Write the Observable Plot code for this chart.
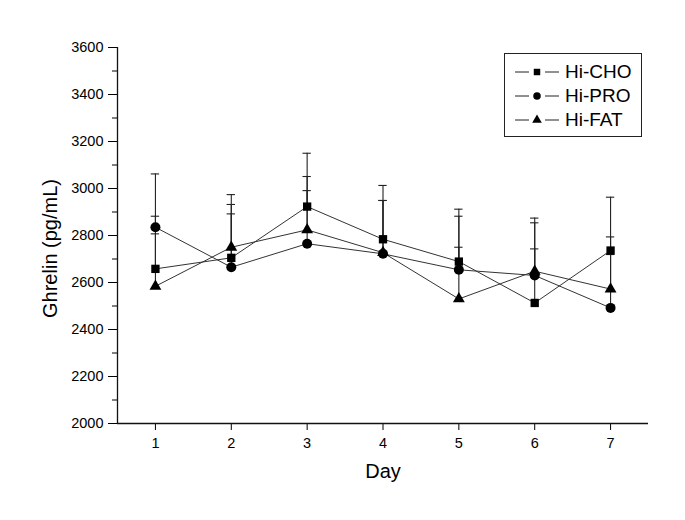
<!DOCTYPE html>
<html>
<head>
<meta charset="utf-8">
<script src="https://cdn.jsdelivr.net/npm/d3@7"></script>
<script src="https://cdn.jsdelivr.net/npm/@observablehq/plot@0.6"></script>
<style>
  body { margin: 0; background: white; font-family: "Liberation Sans", Arial, sans-serif; }
  #wrap { position: relative; width: 685px; height: 520px; }
  #wrap g[aria-label$="tick label"] text { font-size: 14.5px; }
  #legend { position: absolute; left: 504px; top: 53px; width: 138px; height: 84px; box-sizing: border-box;
            border: 1px solid #222; background: white; }
  .row { position: absolute; height: 22px; display: flex; align-items: center; white-space: nowrap; }
  .row svg { display: block; flex: none; }
  .row span { font-size: 19px; color: #000; margin-left: 6px; line-height: 22px; white-space: nowrap; }
</style>
</head>
<body>
<div id="wrap"></div>
<script>
const days = [1, 2, 3, 4, 5, 6, 7];
const seriesNames = ["Hi-CHO", "Hi-PRO", "Hi-FAT"];
const choValues = [2658, 2705, 2923, 2784, 2689, 2513, 2736];
const proValues = [2835, 2665, 2765, 2722, 2654, 2630, 2492];
const fatValues = [2584, 2750, 2824, 2727, 2530, 2648, 2572];
const choErr = [224, 227, 227, 229, 223, 230, 227];
const proErr = [227, 227, 226, 227, 228, 224, 227];
const fatErr = [223, 224, 227, 222, 220, 226, 222];
const yMajorTicks = [2000, 2200, 2400, 2600, 2800, 3000, 3200, 3400, 3600];
const yMinorTicks = [2100, 2300, 2500, 2700, 2900, 3100, 3300, 3500];
const xLabel = "Day";
const yLabel = "Ghrelin (pg/mL)";

const valuesBySeries = [choValues, proValues, fatValues];
const errBySeries = [choErr, proErr, fatErr];
const symbols = ["square", "circle", "triangle"];
const sizes = [4.7, 5, 4.4];

const data = seriesNames.flatMap((s, i) =>
  days.map((d, j) => ({series: s, day: d, value: valuesBySeries[i][j], err: errBySeries[i][j]}))
);

const font = "'Liberation Sans', Arial, sans-serif";

const chart = Plot.plot({
  width: 685,
  height: 520,
  marginLeft: 117,
  marginRight: 37,
  marginTop: 47,
  marginBottom: 97,
  x: {domain: [0.5, 7.5]},
  y: {domain: [2000, 3600]},
  style: {fontFamily: font, fontSize: "14px", background: "white", color: "black", overflow: "visible"},
  marks: [
    Plot.axisY(yMajorTicks, {tickSize: 9, tickPadding: 5, fontSize: 14.5, label: null, tickFormat: d => String(d)}),
    Plot.axisY(yMinorTicks, {tickSize: 5, text: null, label: null}),
    Plot.axisX(days, {tickSize: 7, tickPadding: 7, fontSize: 14.5, label: null}),
    Plot.ruleX([0.5], {stroke: "#111", strokeWidth: 1.3}),
    Plot.ruleY([2000], {stroke: "#111", strokeWidth: 1.3}),
    Plot.line(data, {x: "day", y: "value", z: "series", stroke: "#333", strokeWidth: 1}),
    Plot.ruleX(data, {x: "day", y1: "value", y2: d => d.value + d.err, stroke: "#222", strokeWidth: 1.1}),
    Plot.ruleY(data, {y: d => d.value + d.err, x1: d => d.day - 0.055, x2: d => d.day + 0.055, stroke: "#222", strokeWidth: 1.1}),
    ...seriesNames.map((s, i) =>
      Plot.dot(data, {filter: d => d.series === s, x: "day", y: "value", symbol: symbols[i], r: sizes[i], fill: "black", stroke: "none"})
    ),
    Plot.text([yLabel], {frameAnchor: "left", textAnchor: "middle", lineAnchor: "middle", rotate: -90, dx: -67, dy: 13, fontSize: 20}),
    Plot.text([xLabel], {frameAnchor: "bottom", textAnchor: "middle", lineAnchor: "middle", dy: 48, fontSize: 20})
  ]
});

const wrap = document.getElementById("wrap");
wrap.appendChild(chart);

// Legend
const legend = document.createElement("div");
legend.id = "legend";
seriesNames.forEach((s, i) => {
  const row = document.createElement("div");
  row.className = "row";
  row.style.top = (7 + i * 24) + "px";
  row.style.left = "10px";
  const svg = d3.create("svg").attr("width", 44).attr("height", 22);
  svg.append("line").attr("x1", 0).attr("x2", 14).attr("y1", 11).attr("y2", 11).attr("stroke", "#222");
  svg.append("line").attr("x1", 30).attr("x2", 44).attr("y1", 11).attr("y2", 11).attr("stroke", "#222");
  svg.append("path")
    .attr("d", d3.symbol(i === 0 ? d3.symbolSquare : i === 1 ? d3.symbolCircle : d3.symbolTriangle, i === 0 ? 42 : i === 1 ? 44 : 40)())
    .attr("transform", "translate(22,11)")
    .attr("fill", "black");
  row.appendChild(svg.node());
  const span = document.createElement("span");
  span.textContent = s;
  row.appendChild(span);
  legend.appendChild(row);
});
wrap.appendChild(legend);
</script>
</body>
</html>
